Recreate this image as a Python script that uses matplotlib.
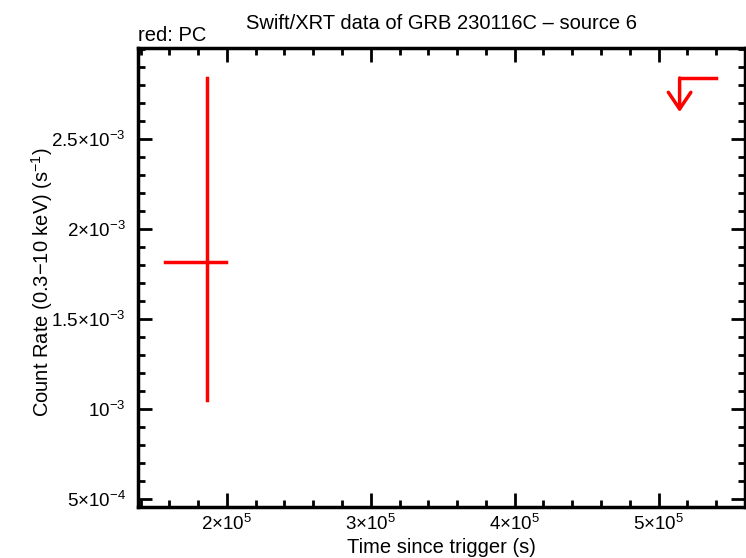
import matplotlib
matplotlib.use("Agg")
import matplotlib.pyplot as plt
from matplotlib.ticker import FixedLocator, MultipleLocator

plt.rcParams['font.family'] = ['Liberation Sans', 'DejaVu Sans']
plt.rcParams['mathtext.fontset'] = 'custom'
plt.rcParams['mathtext.rm'] = 'Liberation Sans'
plt.rcParams['mathtext.it'] = 'Liberation Sans'

# PC detection
pc_t = [1.861e5]
pc_tlo = [1.57e5]
pc_thi = [1.993e5]
pc_rate = [1.817e-3]
pc_rlo = [1.05e-3]
pc_rhi = [2.839e-3]

# PC upper limit
ul_tlo = [5.146e5]
ul_thi = [5.40e5]
ul_rate = [2.839e-3]
ul_arrow_end = [2.65e-3]

xticks = [2e5, 3e5, 4e5, 5e5]
xlabels = ['2\u00d710$^{5}$', '3\u00d710$^{5}$', '4\u00d710$^{5}$', '5\u00d710$^{5}$']
yticks = [5e-4, 1e-3, 1.5e-3, 2e-3, 2.5e-3]
ylabels = ['5\u00d710$^{-4}$', '10$^{-3}$', '1.5\u00d710$^{-3}$', '2\u00d710$^{-3}$', '2.5\u00d710$^{-3}$']

fig = plt.figure(figsize=(7.46, 5.58), dpi=100)
ax = fig.add_axes([0.185, 0.091, 0.813, 0.823])

red = '#ff0000'
for t, tl, th, r, rl, rh in zip(pc_t, pc_tlo, pc_thi, pc_rate, pc_rlo, pc_rhi):
    ax.plot([tl, th], [r, r], color=red, lw=2.5)
    ax.plot([t, t], [rl, rh], color=red, lw=2.5)

for tl, th, r, re in zip(ul_tlo, ul_thi, ul_rate, ul_arrow_end):
    ax.plot([tl, th], [r, r], color=red, lw=2.5)
    ax.annotate('', xy=(tl, re), xytext=(tl, r),
                arrowprops=dict(arrowstyle='->, head_length=0.4, head_width=0.27',
                                color=red, lw=2.5,
                                mutation_scale=30, shrinkA=0, shrinkB=0))

ax.set_xlim(1.382e5, 5.597e5)
ax.set_ylim(4.556e-4, 3.006e-3)

ax.xaxis.set_major_locator(FixedLocator(xticks))
ax.set_xticklabels(xlabels)
ax.xaxis.set_minor_locator(MultipleLocator(2e4))
ax.yaxis.set_major_locator(FixedLocator(yticks))
ax.set_yticklabels(ylabels)
ax.yaxis.set_minor_locator(MultipleLocator(1e-4))

ax.tick_params(which='both', direction='in', top=True, right=True, width=2, labelsize=13.5)
ax.tick_params(which='major', length=10)
ax.tick_params(axis='y', pad=9)
ax.tick_params(axis='x', pad=5)
ax.tick_params(which='minor', length=5)
for s in ax.spines.values():
    s.set_linewidth(2.5)

ax.set_xlabel('Time since trigger (s)', fontsize=14.5, labelpad=3)
ax.set_ylabel(r'Count Rate (0.3$-$10 keV) (s$^{-1}$)', fontsize=14.5)
ax.yaxis.set_label_coords(-0.137, 0.49)
ax.set_title('Swift/XRT data of GRB 230116C \u2013 source 6', fontsize=14.5, pad=14)
ax.text(0.0, 1.006, 'red: PC', transform=ax.transAxes, fontsize=14.5, ha='left', va='bottom')

fig.savefig('out.png', dpi=100)
